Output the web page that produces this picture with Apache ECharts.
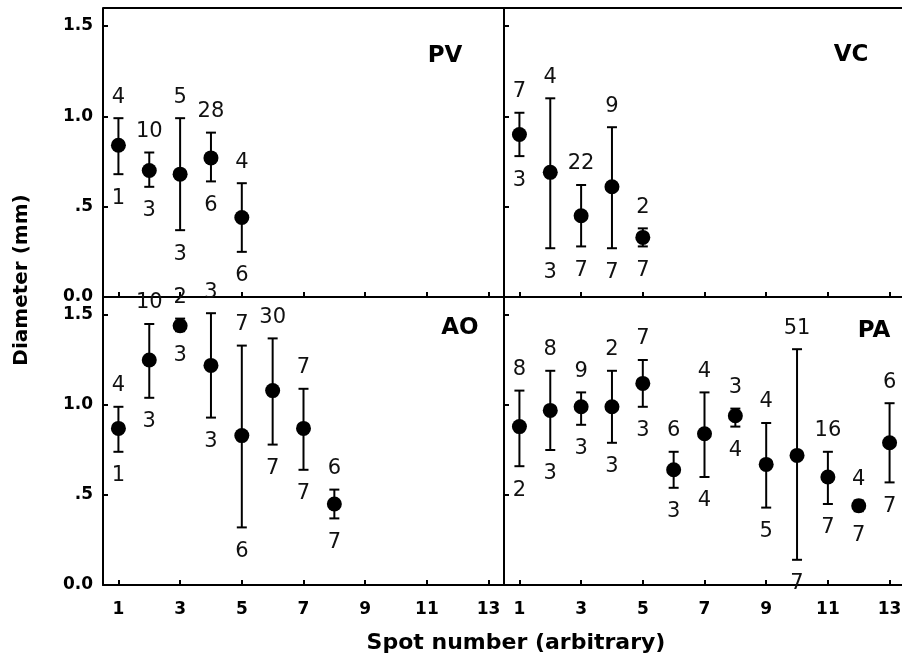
<!DOCTYPE html>
<html>
<head>
<meta charset="utf-8">
<script src="https://cdn.jsdelivr.net/npm/echarts@6/dist/echarts.min.js"></script>
<style>html,body{margin:0;padding:0;background:#fff}#c{width:902px;height:660px}</style>
</head>
<body>
<div id="c"></div>
<script>
// ---- data ----
const xTicks = [1, 3, 5, 7, 9, 11, 13];
const yTicks = [0, 0.5, 1.0, 1.5];

const spotsPV = [1, 2, 3, 4, 5];
const meanPV = [0.84, 0.70, 0.68, 0.77, 0.44];
const upPV   = [0.99, 0.80, 0.99, 0.91, 0.63];
const loPV   = [0.68, 0.61, 0.37, 0.64, 0.25];
const nTopPV = ['4', '10', '5', '28', '4'];
const nBotPV = ['1', '3', '3', '6', '6'];

const spotsVC = [1, 2, 3, 4, 5];
const meanVC = [0.90, 0.69, 0.45, 0.61, 0.33];
const upVC   = [1.02, 1.10, 0.62, 0.94, 0.38];
const loVC   = [0.78, 0.27, 0.28, 0.27, 0.28];
const nTopVC = ['7', '4', '22', '9', '2'];
const nBotVC = ['3', '3', '7', '7', '7'];

const spotsAO = [1, 2, 3, 4, 5, 6, 7, 8];
const meanAO = [0.87, 1.25, 1.44, 1.22, 0.83, 1.08, 0.87, 0.45];
const upAO   = [0.99, 1.45, 1.48, 1.51, 1.33, 1.37, 1.09, 0.53];
const loAO   = [0.74, 1.04, 1.41, 0.93, 0.32, 0.78, 0.64, 0.37];
const nTopAO = ['4', '10', '2', '3', '7', '30', '7', '6'];
const nBotAO = ['1', '3', '3', '3', '6', '7', '7', '7'];

const spotsPA = [1, 2, 3, 4, 5, 6, 7, 8, 9, 10, 11, 12, 13];
const meanPA = [0.88, 0.97, 0.99, 0.99, 1.12, 0.64, 0.84, 0.94, 0.67, 0.72, 0.60, 0.44, 0.79];
const upPA   = [1.08, 1.19, 1.07, 1.19, 1.25, 0.74, 1.07, 0.98, 0.90, 1.31, 0.74, 0.47, 1.01];
const loPA   = [0.66, 0.75, 0.89, 0.79, 0.99, 0.54, 0.60, 0.88, 0.43, 0.14, 0.45, 0.41, 0.57];
const nTopPA = ['8', '8', '9', '2', '7', '6', '4', '3', '4', '51', '16', '4', '6'];
const nBotPA = ['2', '3', '3', '3', '3', '3', '4', '4', '5', '7', '7', '7', '7'];

const panels = [
  {name: 'PV', spots: spotsPV, mean: meanPV, up: upPV, lo: loPV, top: nTopPV, bot: nBotPV},
  {name: 'VC', spots: spotsVC, mean: meanVC, up: upVC, lo: loVC, top: nTopVC, bot: nBotVC},
  {name: 'AO', spots: spotsAO, mean: meanAO, up: upAO, lo: loAO, top: nTopAO, bot: nBotAO},
  {name: 'PA', spots: spotsPA, mean: meanPA, up: upPA, lo: loPA, top: nTopPA, bot: nBotPA}
];

// ---- layout ----
const gridPos = [
  {left: 103, top: 8, width: 401, height: 289},
  {left: 504, top: 8, width: 401, height: 289},
  {left: 103, top: 297, width: 401, height: 288},
  {left: 504, top: 297, width: 401, height: 288}
];
const panelLabelPos = [[445, 56], [851, 55], [460, 328], [874, 331]];

const tickFont = 'DejaVu Sans';
const grids = [], xAxes = [], yAxes = [], series = [], graphics = [];

panels.forEach((p, i) => {
  const isBottom = i >= 2, isLeft = i % 2 === 0;
  grids.push(Object.assign({show: false, outerBoundsMode: 'none'}, gridPos[i]));
  xAxes.push({
    type: 'value', gridIndex: i, min: 0.5, max: 13.5,
    axisLine: {show: true, onZero: false, lineStyle: {color: '#000', width: 2}},
    axisTick: {show: true, inside: true, length: 5, customValues: xTicks, lineStyle: {color: '#000', width: 2}},
    axisLabel: {show: isBottom, customValues: xTicks, margin: 16, color: '#000', fontFamily: tickFont, fontWeight: 'bold', fontSize: 17},
    splitLine: {show: false}
  });
  yAxes.push({
    type: 'value', gridIndex: i, min: 0, max: 1.6,
    axisLine: {show: true, onZero: false, lineStyle: {color: '#000', width: 2}},
    axisTick: {show: true, inside: true, length: 5, customValues: yTicks, lineStyle: {color: '#000', width: 2}},
    axisLabel: {show: isLeft, customValues: yTicks, margin: 10, color: '#000', fontFamily: tickFont, fontWeight: 'bold', fontSize: 17,
      formatter: v => v === 0 ? '0.0' : (v === 0.5 ? '.5' : v.toFixed(1))},
    splitLine: {show: false}
  });
  const errData = p.spots.map((s, k) => [s, p.up[k], p.lo[k]]);
  series.push({
    type: 'custom', xAxisIndex: i, yAxisIndex: i, data: errData, silent: true, z: 2,
    renderItem: (params, api) => {
      const k = params.dataIndex;
      const x = api.value(0);
      const pu = api.coord([x, api.value(1)]);
      const pl = api.coord([x, api.value(2)]);
      const st = {stroke: '#000', lineWidth: 2};
      return {type: 'group', children: [
        {type: 'line', shape: {x1: pu[0], y1: pu[1], x2: pl[0], y2: pl[1]}, style: st},
        {type: 'line', shape: {x1: pu[0] - 5, y1: pu[1], x2: pu[0] + 5, y2: pu[1]}, style: st},
        {type: 'line', shape: {x1: pl[0] - 5, y1: pl[1], x2: pl[0] + 5, y2: pl[1]}, style: st},
        {type: 'text', x: pu[0], y: pu[1] - 21, style: {text: p.top[k], fontFamily: 'DejaVu Sans', fontSize: 21, fill: '#111', align: 'center', verticalAlign: 'middle'}},
        {type: 'text', x: pl[0], y: pl[1] + 24, style: {text: p.bot[k], fontFamily: 'DejaVu Sans', fontSize: 21, fill: '#111', align: 'center', verticalAlign: 'middle'}}
      ]};
    }
  });
  series.push({
    type: 'scatter', xAxisIndex: i, yAxisIndex: i, z: 3, silent: true,
    data: p.spots.map((s, k) => [s, p.mean[k]]),
    symbol: 'circle', symbolSize: 15, itemStyle: {color: '#000', opacity: 1}
  });
  graphics.push({type: 'text', x: panelLabelPos[i][0], y: panelLabelPos[i][1],
    style: {text: p.name, fontFamily: 'DejaVu Sans', fontWeight: 'bold', fontSize: 23, fill: '#000', align: 'center', verticalAlign: 'middle'}});
});

// the right-hand frame edge lies outside the picture: keep the canvas edge clean
graphics.push({type: 'rect', z: 100, shape: {x: 899, y: 10, width: 3, height: 285}, style: {fill: '#fff'}});
graphics.push({type: 'rect', z: 100, shape: {x: 899, y: 299, width: 3, height: 284}, style: {fill: '#fff'}});
// frame: top border of the upper panels
graphics.push({type: 'line', z: 101, shape: {x1: 103, y1: 8, x2: 902, y2: 8}, style: {stroke: '#000', lineWidth: 2}});

graphics.push({type: 'text', x: 22, y: 280, rotation: Math.PI / 2,
  style: {text: 'Diameter (mm)', fontFamily: 'DejaVu Sans', fontWeight: 'bold', fontSize: 20, fill: '#000', align: 'center', verticalAlign: 'middle'}});
graphics.push({type: 'text', x: 516, y: 643,
  style: {text: 'Spot number (arbitrary)', fontFamily: 'DejaVu Sans', fontWeight: 'bold', fontSize: 22, fill: '#000', align: 'center', verticalAlign: 'middle'}});

const chart = echarts.init(document.getElementById('c'), null, {renderer: 'canvas'});
chart.setOption({
  animation: false,
  backgroundColor: '#fff',
  grid: grids, xAxis: xAxes, yAxis: yAxes, series: series,
  graphic: graphics
});
</script>
</body>
</html>
